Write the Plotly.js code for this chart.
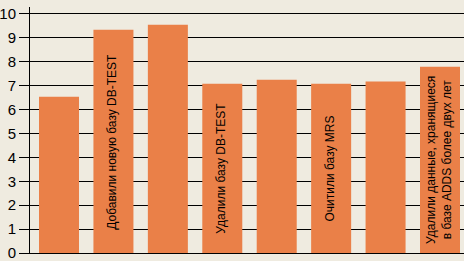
<!DOCTYPE html>
<html>
<head>
<meta charset="utf-8">
<script src="https://cdn.plot.ly/plotly-3.0.1.min.js"></script>
<style>html,body{margin:0;padding:0;background:#efebe0;}#chart{width:464px;height:261px;}</style>
</head>
<body>
<div id="chart"></div>
<script>
var positions = [0, 1, 2, 3, 4, 5, 6, 7];
var values = [6.54, 9.34, 9.55, 7.08, 7.25, 7.08, 7.17, 7.79];
var barLabels = ["", "Добавили новую базу DB-TEST", "", "Удалили базу DB-TEST", "", "Очитили базу MRS", "", "Удалили данные, хранящиеся<br>в базе ADDS более двух лет"];
var yTicks = [0, 1, 2, 3, 4, 5, 6, 7, 8, 9, 10];

var trace = {
  type: 'bar',
  x: positions,
  y: values,
  marker: {color: '#ea8048', line: {width: 0}},
  width: 0.735,
  hoverinfo: 'none'
};

var annotations = [];
for (var i = 0; i < positions.length; i++) {
  if (!barLabels[i]) continue;
  annotations.push({
    x: positions[i],
    y: values[i] / 2,
    xref: 'x',
    yref: 'y',
    text: barLabels[i],
    textangle: -90,
    showarrow: false,
    xanchor: 'center',
    yanchor: 'middle',
    xshift: -1,
    font: {family: 'Liberation Sans, Arial, sans-serif', size: 12, color: '#000000'}
  });
}

var layout = {
  width: 464,
  height: 261,
  margin: {l: 30, r: 0, t: 7, b: 8, pad: 0},
  paper_bgcolor: '#efebe0',
  plot_bgcolor: '#efebe0',
  showlegend: false,
  font: {family: 'Liberation Sans, Arial, sans-serif', color: '#000000'},
  annotations: annotations,
  xaxis: {
    range: [-0.533, 7.441],
    showgrid: false,
    zeroline: false,
    showticklabels: false,
    ticks: '',
    showline: true,
    linecolor: '#000000',
    linewidth: 1,
    fixedrange: true
  },
  yaxis: {
    range: [0, 10.29],
    tickvals: yTicks,
    ticktext: yTicks.map(String),
    showgrid: true,
    gridcolor: '#000000',
    gridwidth: 1,
    zeroline: false,
    showline: true,
    linecolor: '#000000',
    linewidth: 1,
    ticks: 'outside',
    ticklen: 10,
    tickcolor: '#000000',
    tickwidth: 1,
    ticklabeloverflow: 'allow',
    tickfont: {family: 'Liberation Sans, Arial, sans-serif', size: 15, color: '#000000'},
    fixedrange: true
  }
};

Plotly.newPlot('chart', [trace], layout, {staticPlot: true, displayModeBar: false});
</script>
</body>
</html>
